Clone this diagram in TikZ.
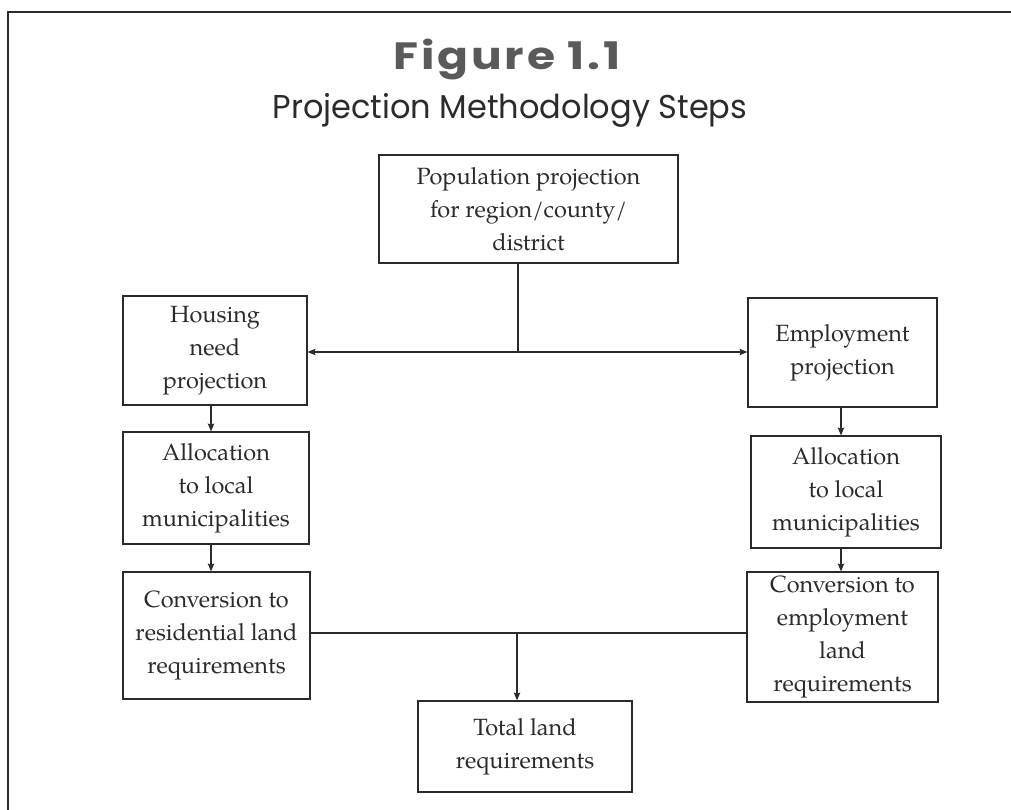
\documentclass[tikz,border=0pt]{standalone}
\usepackage{fontspec}
\setmainfont{TeX Gyre Pagella}
\newfontfamily\headfont{Poppins}
\usetikzlibrary{arrows.meta}
\definecolor{ink}{HTML}{2B2B2B}
\definecolor{headgray}{HTML}{5A5A5A}
\begin{document}
\begin{tikzpicture}[x=1pt,y=-1pt,
  stepbox/.style={draw=ink, line width=1.1pt, text=ink, align=center,
    inner sep=0pt, font=\fontsize{23.5}{33}\selectfont},
  link/.style={draw=ink, line width=1.1pt},
  flow/.style={link, -{Stealth[length=8pt,width=6.5pt,inset=1.5pt]}}]
\useasboundingbox (0,0) rectangle (1011,810);
% frame
\draw[ink, line width=1.3pt] (8,810) -- (8,12) -- (1011,12);
% heading
\node[text=headgray, font=\headfont\bfseries\fontsize{38}{40}\selectfont\addfontfeatures{LetterSpace=6}, xscale=1.2] (fig) at (507,60) {Figure 1.1};
\node[text=ink, font=\headfont\fontsize{33}{36}\selectfont, xscale=0.97] (sub) at (510,110) {Projection Methodology Steps};
% boxes
\node[stepbox, minimum width=299pt, minimum height=108pt] (pop) at (528.5,209) {Population projection\\for region/county/\\district};
\node[stepbox, minimum width=184pt, minimum height=109pt] (housing) at (215,350.5) {Housing\\need\\projection};
\node[stepbox, minimum width=186pt, minimum height=112pt] (lalloc) at (216,488) {Allocation\\to local\\municipalities};
\node[stepbox, minimum width=187pt, minimum height=127pt] (lconv) at (216.5,635.5) {Conversion to\\residential land\\requirements};
\node[stepbox, minimum width=189pt, minimum height=109pt] (emp) at (842.5,352.5) {Employment\\projection};
\node[stepbox, minimum width=190pt, minimum height=112pt] (ralloc) at (846,492) {Allocation\\to local\\municipalities};
\node[stepbox, minimum width=191pt, minimum height=130pt] (rconv) at (842.5,637) {Conversion to\\employment\\land\\requirements};
\node[stepbox, minimum width=214pt, minimum height=91pt] (total) at (525,746.5) {Total land\\requirements};
% connectors
\coordinate (split) at (518,352);
\coordinate (join) at (517,633);
\coordinate (lcol) at (211,0);
\coordinate (rcol) at (841,0);
\draw[link] (pop.south -| split) -- (split);
\draw[flow] (split) -- (split -| housing.east);
\draw[flow] (split) -- (split -| emp.west);
\draw[flow] (lcol |- housing.south) -- (lcol |- lalloc.north);
\draw[flow] (lcol |- lalloc.south) -- (lcol |- lconv.north);
\draw[flow] (rcol |- emp.south) -- (rcol |- ralloc.north);
\draw[flow] (rcol |- ralloc.south) -- (rcol |- rconv.north);
\draw[link] (lconv.east |- join) -- (rconv.west |- join);
\draw[flow] (join) -- (join |- total.north);
\end{tikzpicture}
\end{document}
